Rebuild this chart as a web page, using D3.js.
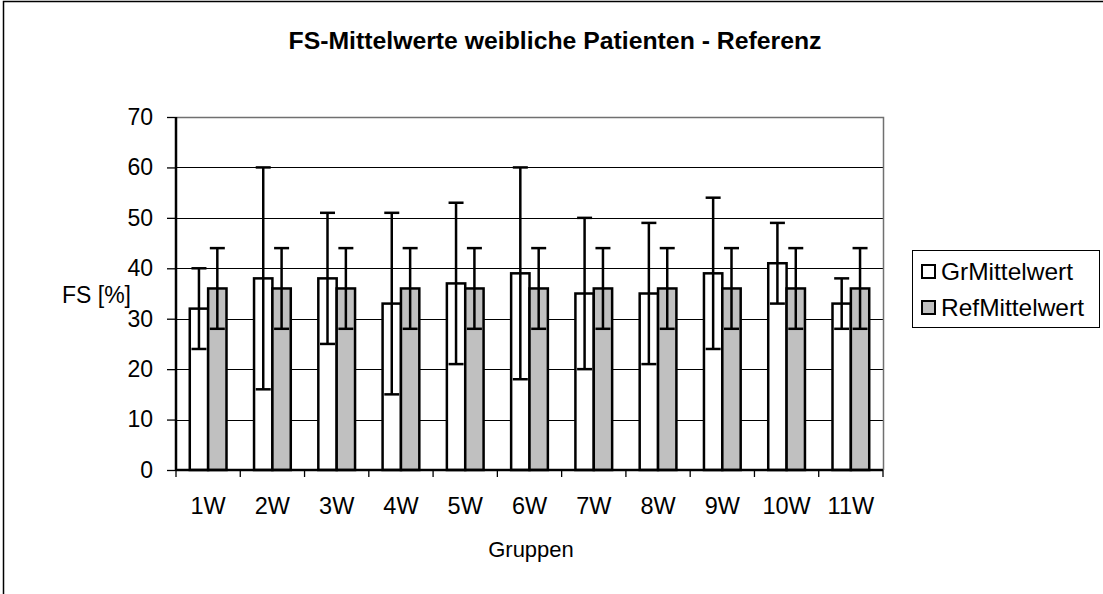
<!DOCTYPE html>
<html>
<head>
<meta charset="utf-8">
<script src="https://cdn.jsdelivr.net/npm/d3@7"></script>
<style>
  body { margin: 0; background: #fff; }
  text { font-family: "Liberation Sans", Arial, sans-serif; fill: #000; }
</style>
</head>
<body>
<svg width="1103" height="594"></svg>
<script>
var groups = ['1W', '2W', '3W', '4W', '5W', '6W', '7W', '8W', '9W', '10W', '11W'];
var grMean = [32, 38, 38, 33, 37, 39, 35, 35, 39, 41, 33];
var grErr  = [8, 22, 13, 18, 16, 21, 15, 14, 15, 8, 5];
var refMean = [36, 36, 36, 36, 36, 36, 36, 36, 36, 36, 36];
var refErr  = [8, 8, 8, 8, 8, 8, 8, 8, 8, 8, 8];
var series = ['GrMittelwert', 'RefMittelwert'];
var yTicks = [0, 10, 20, 30, 40, 50, 60, 70];

var svg = d3.select("svg");
var colors = { GrMittelwert: '#ffffff', RefMittelwert: '#c0c0c0' };
var font = '"Liberation Sans", Arial, sans-serif';

// outer chart frame
svg.append("rect")
  .attr("x", 3.5).attr("y", 1.5).attr("width", 1110).attr("height", 610)
  .attr("fill", "none").attr("stroke", "#000").attr("stroke-width", 1.5);

var pLeft = 176, pRight = 883, pTop = 117, pBottom = 470;

var x = d3.scaleBand().domain(groups).range([pLeft, pRight]);
var inner = d3.scaleBand().domain(series).range([0, x.bandwidth()])
  .paddingInner(0).paddingOuter(0.75);
var y = d3.scaleLinear().domain([0, 70]).range([pBottom, pTop]);

// gridlines
svg.append("g").selectAll("line").data(yTicks.slice(1, -1)).enter().append("line")
  .attr("x1", pLeft).attr("x2", pRight)
  .attr("y1", d => Math.round(y(d)) + 0.5).attr("y2", d => Math.round(y(d)) + 0.5)
  .attr("stroke", "#000").attr("stroke-width", 1.2);

// plot border top/right
svg.append("path")
  .attr("d", "M" + pLeft + "," + (pTop + 0.5) + "H" + (pRight + 0.5) + "V" + pBottom)
  .attr("fill", "none").attr("stroke", "#707070").attr("stroke-width", 1.5);

var rows = groups.map((g, i) => [
  { g: g, s: 'GrMittelwert', v: grMean[i], e: grErr[i] },
  { g: g, s: 'RefMittelwert', v: refMean[i], e: refErr[i] }
]).flat();

var bw = inner.bandwidth();
var cx = d => x(d.g) + inner(d.s) + bw / 2;

// bars
svg.append("g").selectAll("rect").data(rows).enter().append("rect")
  .attr("x", d => x(d.g) + inner(d.s))
  .attr("y", d => y(d.v))
  .attr("width", bw)
  .attr("height", d => y(0) - y(d.v))
  .attr("fill", d => colors[d.s])
  .attr("stroke", "#000").attr("stroke-width", 2.5);

// error bars
var eb = svg.append("g").selectAll("g").data(rows).enter().append("g");
eb.append("line")
  .attr("x1", cx).attr("x2", cx)
  .attr("y1", d => y(d.v + d.e)).attr("y2", d => y(d.v - d.e))
  .attr("stroke", "#000").attr("stroke-width", 2.5);
[1, -1].forEach(function(sgn) {
  eb.append("line")
    .attr("x1", d => cx(d) - 7.5).attr("x2", d => cx(d) + 7.5)
    .attr("y1", d => y(d.v + sgn * d.e)).attr("y2", d => y(d.v + sgn * d.e))
    .attr("stroke", "#000").attr("stroke-width", 2.5);
});

// y axis
var yAxis = svg.append("g").attr("transform", "translate(" + pLeft + ",0)")
  .call(d3.axisLeft(y).tickValues(yTicks).tickSize(9).tickPadding(14));
yAxis.select(".domain").attr("stroke-width", 2.5).attr("d", "M0," + pTop + "V" + pBottom);
yAxis.selectAll(".tick line").attr("stroke-width", 1.3);
yAxis.selectAll("text").style("font-size", "23px").style("font-family", font);

// x axis
var xAxis = svg.append("g").attr("transform", "translate(0," + pBottom + ")")
  .call(d3.axisBottom(x).tickSize(0).tickPadding(27));
xAxis.select(".domain").attr("stroke-width", 2.5).attr("d", "M" + pLeft + ",0H" + pRight);
xAxis.selectAll("text").style("font-size", "23.5px").style("font-family", font);
svg.append("g").selectAll("line").data(d3.range(groups.length + 1)).enter().append("line")
  .attr("x1", i => pLeft + i * x.step()).attr("x2", i => pLeft + i * x.step())
  .attr("y1", pBottom).attr("y2", pBottom + 7)
  .attr("stroke", "#000").attr("stroke-width", 1.3);

// titles
svg.append("text").attr("x", 555).attr("y", 49).attr("text-anchor", "middle")
  .attr("textLength", 533).attr("lengthAdjust", "spacingAndGlyphs")
  .style("font-size", "23px").style("font-weight", "bold")
  .text("FS-Mittelwerte weibliche Patienten - Referenz");
svg.append("text").attr("x", 531).attr("y", 557).attr("text-anchor", "middle")
  .style("font-size", "22px").text("Gruppen");
svg.append("text").attr("x", 62).attr("y", 303)
  .style("font-size", "23px").text("FS [%]");

// legend
var lg = svg.append("g");
lg.append("rect").attr("x", 912.5).attr("y", 250.5).attr("width", 187).attr("height", 77)
  .attr("fill", "#fff").attr("stroke", "#000").attr("stroke-width", 1);
series.forEach(function(s, i) {
  var yy = 271 + i * 36;
  lg.append("rect").attr("x", 922).attr("y", yy - 6).attr("width", 13).attr("height", 13)
    .attr("fill", colors[s]).attr("stroke", "#000").attr("stroke-width", 2);
  lg.append("text").attr("x", 941).attr("y", yy + 8.5)
    .style("font-size", "24.5px").text(s);
});
</script>
</body>
</html>
